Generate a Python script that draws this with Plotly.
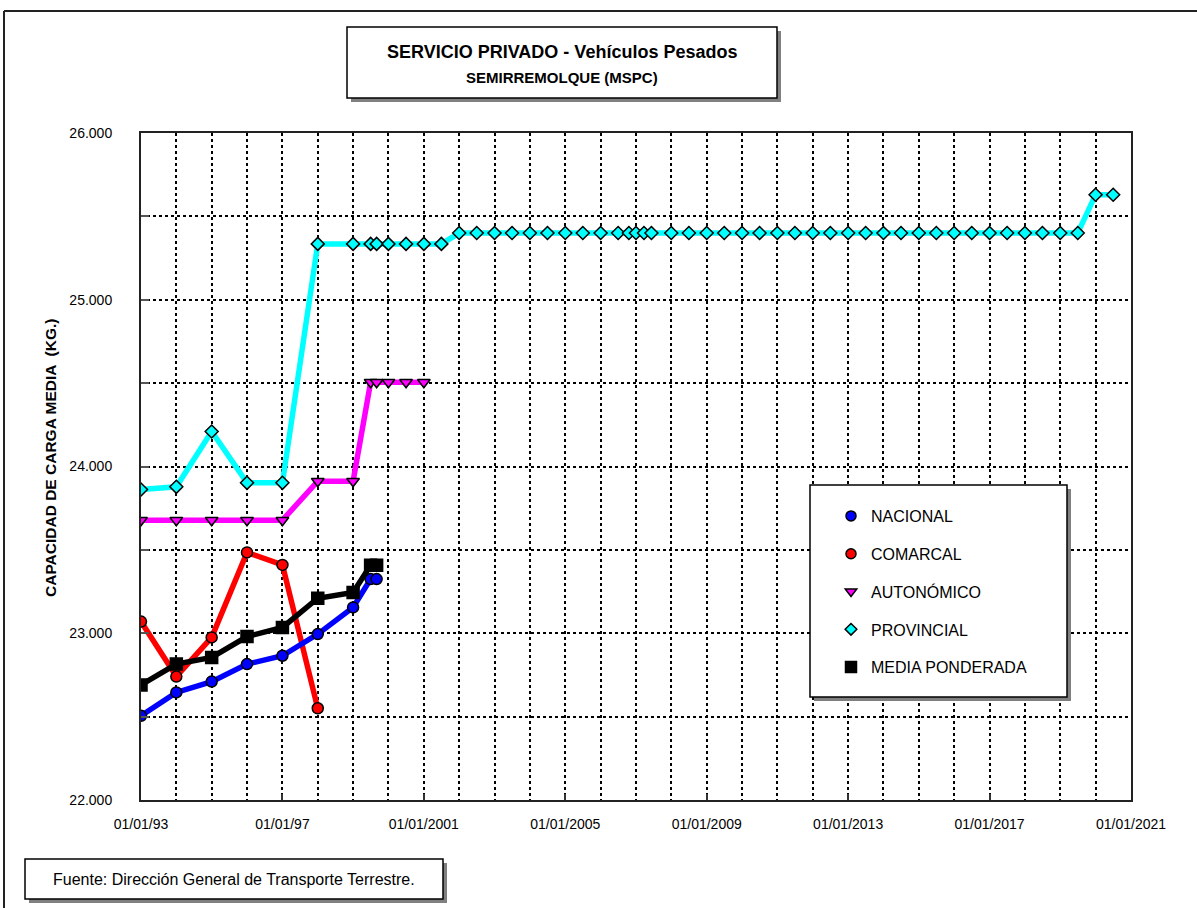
import plotly.graph_objects as go

# ---------------- DATA ----------------
nac_dates = ["1993-01-01", "1994-01-01", "1995-01-01", "1996-01-01", "1997-01-01",
             "1998-01-01", "1999-01-01", "1999-07-01", "1999-09-01"]
nac_vals = [22505, 22645, 22710, 22815, 22865, 22995, 23155, 23325, 23325]

com_dates = ["1993-01-01", "1994-01-01", "1995-01-01", "1996-01-01", "1997-01-01", "1998-01-01"]
com_vals = [23070, 22740, 22975, 23485, 23410, 22550]

aut_dates = ["1993-01-01", "1994-01-01", "1995-01-01", "1996-01-01", "1997-01-01",
             "1998-01-01", "1999-01-01", "1999-07-01", "1999-09-01", "2000-01-01",
             "2000-07-01", "2001-01-01"]
aut_vals = [23678, 23678, 23678, 23678, 23678,
            23912, 23912, 24505, 24505, 24505,
            24505, 24505]

prov_dates = ["1993-01-01", "1994-01-01", "1995-01-01", "1996-01-01", "1997-01-01",
              "1998-01-01", "1999-01-01", "1999-07-01", "1999-09-01", "2000-01-01",
              "2000-07-01", "2001-01-01", "2001-07-01", "2002-01-01", "2002-07-01",
              "2003-01-01", "2003-07-01", "2004-01-01", "2004-07-01", "2005-01-01",
              "2005-07-01", "2006-01-01", "2006-07-01", "2006-10-20", "2007-01-01",
              "2007-03-25", "2007-06-10", "2008-01-01", "2008-07-01", "2009-01-01",
              "2009-07-01", "2010-01-01", "2010-07-01", "2011-01-01", "2011-07-01",
              "2012-01-01", "2012-07-01", "2013-01-01", "2013-07-01", "2014-01-01",
              "2014-07-01", "2015-01-01", "2015-07-01", "2016-01-01", "2016-07-01",
              "2017-01-01", "2017-07-01", "2018-01-01", "2018-07-01", "2019-01-01",
              "2019-07-01", "2020-01-01", "2020-07-01"]
prov_vals = [23862, 23878, 24210, 23902, 23902,
             25335, 25335, 25335, 25335, 25335,
             25335, 25335, 25335, 25400, 25400,
             25400, 25400, 25400, 25400, 25400,
             25400, 25400, 25400, 25400, 25400,
             25400, 25400, 25400, 25400, 25400,
             25400, 25400, 25400, 25400, 25400,
             25400, 25400, 25400, 25400, 25400,
             25400, 25400, 25400, 25400, 25400,
             25400, 25400, 25400, 25400, 25400,
             25400, 25630, 25630]

med_dates = ["1993-01-01", "1994-01-01", "1995-01-01", "1996-01-01", "1997-01-01",
             "1998-01-01", "1999-01-01", "1999-07-01", "1999-09-01"]
med_vals = [22690, 22815, 22855, 22980, 23035, 23210, 23245, 23408, 23408]

x_tickvals = ["1993-01-01", "1997-01-01", "2001-01-01", "2005-01-01",
              "2009-01-01", "2013-01-01", "2017-01-01", "2021-01-01"]
x_ticktext = ["01/01/93", "01/01/97", "01/01/2001", "01/01/2005",
              "01/01/2009", "01/01/2013", "01/01/2017", "01/01/2021"]
y_tickvals = [22000, 23000, 24000, 25000, 26000]
y_ticktext = ["22.000", "23.000", "24.000", "25.000", "26.000"]

names = ["NACIONAL", "COMARCAL", "AUTONÓMICO", "PROVINCIAL", "MEDIA PONDERADA"]
title_text = "SERVICIO PRIVADO - Vehículos Pesados"
subtitle_text = "SEMIRREMOLQUE (MSPC)"
source_text = "Fuente: Dirección General de Transporte Terrestre."
ytitle_text = "CAPACIDAD DE CARGA MEDIA  (KG.)"

# ---------------- LAYOUT HELPERS ----------------
W, H = 1197, 908
PL, PR, PT, PB = 141, 1131, 133, 800


def fx(px):
    return (px - PL) / (PR - PL)


def fy(py):
    return (PB - py) / (PB - PT)


FONT = "Liberation Sans, Arial, sans-serif"

styles = [
    dict(color="#0000FF", symbol="circle", size=11),
    dict(color="#FF0000", symbol="circle", size=11),
    dict(color="#FF00FF", symbol="triangle-down", size=11),
    dict(color="#00FFFF", symbol="diamond", size=10),
    dict(color="#000000", symbol="square", size=12),
]
series = [
    (nac_dates, nac_vals),
    (com_dates, com_vals),
    (aut_dates, aut_vals),
    (prov_dates, prov_vals),
    (med_dates, med_vals),
]

fig = go.Figure()
draw_order = [3, 2, 1, 0, 4]
for i in draw_order:
    xs, ys = series[i]
    st = styles[i]
    fig.add_trace(go.Scatter(
        x=xs, y=ys, mode="lines+markers", name=names[i], showlegend=False,
        line=dict(color=st["color"], width=5.5),
        marker=dict(color=st["color"], symbol=st["symbol"], size=st["size"],
                    line=dict(color="#000000", width=1.5)),
    ))

# legend-only entries (markers only, as in the reference)
for i in range(5):
    st = styles[i]
    fig.add_trace(go.Scatter(
        x=[None], y=[None], mode="markers", name=names[i], legendgroup=names[i],
        marker=dict(color=st["color"], symbol=st["symbol"], size=st["size"] - 1,
                    line=dict(color="#000000", width=1.5)),
    ))

shapes = []


def box(x0, y0, x1, y1, shadow=4):
    shapes.append(dict(type="rect", xref="paper", yref="paper", layer="above",
                       x0=fx(x0 + shadow), x1=fx(x1 + shadow),
                       y0=fy(y1 + shadow), y1=fy(y0 + shadow),
                       fillcolor="#808080", line=dict(width=0)))
    shapes.append(dict(type="rect", xref="paper", yref="paper", layer="above",
                       x0=fx(x0), x1=fx(x1), y0=fy(y1), y1=fy(y0),
                       fillcolor="white", line=dict(color="black", width=1.5)))


box(810, 485, 1067, 697)
box(347, 27, 777, 98)
box(25, 859, 443, 899)

# outer chart border (top and left)
shapes.append(dict(type="line", xref="paper", yref="paper", layer="above",
                   x0=fx(4), x1=fx(W), y0=fy(11), y1=fy(11),
                   line=dict(color="#222222", width=2)))
shapes.append(dict(type="line", xref="paper", yref="paper", layer="above",
                   x0=fx(4), x1=fx(4), y0=fy(11), y1=fy(H),
                   line=dict(color="#222222", width=2)))

annotations = [
    dict(text="<b>" + title_text + "</b>", xref="paper", yref="paper",
         x=fx(562), y=fy(52), showarrow=False, xanchor="center", yanchor="middle",
         font=dict(family=FONT, size=18, color="black")),
    dict(text="<b>" + subtitle_text + "</b>", xref="paper", yref="paper",
         x=fx(562), y=fy(77), showarrow=False, xanchor="center", yanchor="middle",
         font=dict(family=FONT, size=15, color="black")),
    dict(text=source_text, xref="paper", yref="paper",
         x=fx(234), y=fy(879), showarrow=False, xanchor="center", yanchor="middle",
         font=dict(family=FONT, size=16, color="black")),
    dict(text="<b>" + ytitle_text + "</b>", xref="paper", yref="paper",
         x=fx(50), y=fy(458), showarrow=False, xanchor="center", yanchor="middle",
         textangle=-90, font=dict(family=FONT, size=15.5, color="black")),
]

fig.update_layout(
    width=W, height=H,
    margin=dict(l=PL, r=W - PR, t=PT, b=H - PB, pad=0),
    paper_bgcolor="white", plot_bgcolor="white",
    font=dict(family=FONT, size=14, color="black"),
    showlegend=True,
    legend=dict(x=fx(831), y=fy(499), xanchor="left", yanchor="top",
                bgcolor="rgba(0,0,0,0)", borderwidth=0,
                font=dict(family=FONT, size=16, color="black"),
                tracegroupgap=14, traceorder="grouped"),
    shapes=shapes,
    annotations=annotations,
)

fig.update_xaxes(
    type="date", range=["1993-01-01", "2021-01-01"],
    tickmode="array", tickvals=x_tickvals, ticktext=x_ticktext,
    ticks="inside", ticklen=6, tickcolor="#333333", tickwidth=1.5,
    ticklabelstandoff=10,
    showline=True, linecolor="#222222", linewidth=2, mirror=True,
    showgrid=True, gridcolor="black", gridwidth=1.5, griddash="dot",
    minor=dict(dtick="M12", tick0="1993-01-01", showgrid=True, gridcolor="black",
               gridwidth=1.5, griddash="dot", ticks=""),
    zeroline=False, tickfont=dict(family=FONT, size=14, color="black"),
)
fig.update_yaxes(
    range=[22000, 26000],
    tickmode="array", tickvals=y_tickvals, ticktext=y_ticktext,
    ticks="inside", ticklen=8, tickcolor="#555555", tickwidth=2,
    ticklabelstandoff=24,
    showline=True, linecolor="#222222", linewidth=2, mirror=True,
    showgrid=True, gridcolor="black", gridwidth=1.5, griddash="dot",
    minor=dict(dtick=500, tick0=22000, showgrid=True, gridcolor="black",
               gridwidth=1.5, griddash="dot", ticks="inside", ticklen=8,
               tickcolor="#555555", tickwidth=2),
    zeroline=False, tickfont=dict(family=FONT, size=14, color="black"),
)

fig.write_html("out.html", config={"displayModeBar": False},
               post_script="document.body.style.margin='0';")
